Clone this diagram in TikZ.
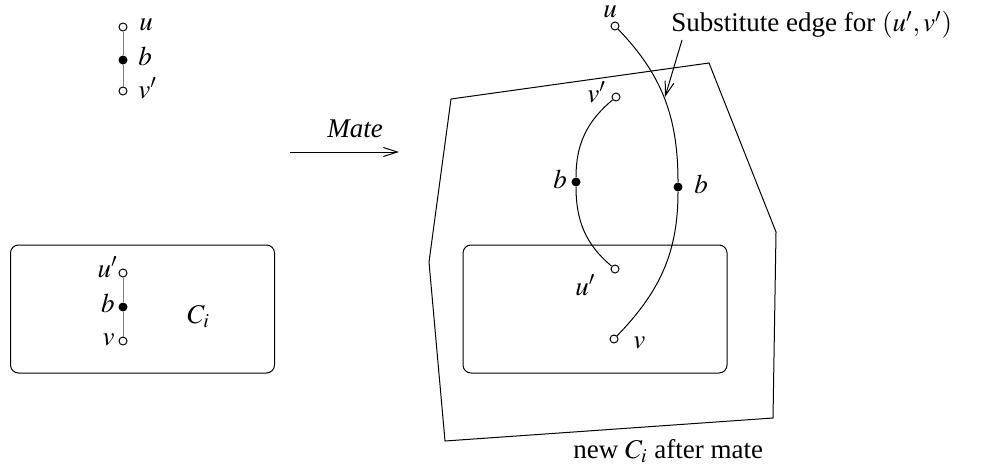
\documentclass[tikz,border=0pt]{standalone}
\usepackage{mathptmx}
\usepackage{fontspec}
\setmainfont{Liberation Serif}
\usetikzlibrary{arrows.meta}
\begin{document}
\begin{tikzpicture}[x=0.5pt,y=-0.5pt,
  every node/.style={font=\fontsize{13.5}{16}\selectfont},
  hollow/.style={circle,draw,fill=white,minimum size=4pt,inner sep=0pt,line width=0.5pt},
  solid/.style={circle,fill=black,minimum size=4.5pt,inner sep=0pt},
  lbl/.style={inner sep=0pt},
  ln/.style={line width=0.5pt},
  box/.style={draw,line width=0.5pt,rounded corners=4pt},
  tip/.style={-{Straight Barb[length=7pt,width=4.5pt,line width=0.5pt]}}]
\useasboundingbox (0,0) rectangle (988,466);

% top-left graph
\node[hollow] (a1) at (123,27) {};
\node[solid]  (a2) at (123,60) {};
\node[hollow] (a3) at (123,91) {};
\draw[ln,gray] (a1) -- (a2) -- (a3);
\node[lbl,anchor=base west] (la1) at (139,30) {$u$};
\node[lbl,anchor=base west] (la2) at (138,65) {$b$};
\node[lbl,anchor=base west] (la3) at (138,98) {$v'$};

% left box
\node[box,minimum width=132pt,minimum height=64pt,inner sep=0pt] (boxL) at (142.5,309) {};
\node[hollow] (b1) at (123,273) {};
\node[solid]  (b2) at (123,307) {};
\node[hollow] (b3) at (123,341) {};
\draw[ln,gray] (b1) -- (b2) -- (b3);
\node[lbl,anchor=base east] (lb1) at (118,277) {$u'$};
\node[lbl,anchor=base east] (lb2) at (115,312) {$b$};
\node[lbl,anchor=base east] (lb3) at (115,345) {$v$};
\node[lbl,anchor=base west] (ci) at (187,323) {$C_i$};

% Mate arrow
\coordinate (m1) at (290,152);
\coordinate (m2) at (399,152);
\draw[ln,tip] (m1) -- (m2);
\node[lbl,anchor=base west] (mate) at (327,137) {\textit{Mate}};

% right polygon
\coordinate (p1) at (451,99);
\coordinate (p2) at (709,63);
\coordinate (p3) at (776,232);
\coordinate (p4) at (773,418);
\coordinate (p5) at (445,441);
\coordinate (p6) at (429,262);
\draw[ln] (p1) -- (p2) -- (p3) -- (p4) -- (p5) -- (p6) -- cycle;

% inner box
\node[box,minimum width=132pt,minimum height=64pt,inner sep=0pt] (boxR) at (595,309) {};

% right graph
\node[hollow] (u) at (615,26) {};
\node[hollow] (vp) at (616,97) {};
\node[solid] (bl) at (576,182) {};
\node[solid] (br) at (678,187) {};
\node[hollow] (up) at (615,269) {};
\node[hollow] (v) at (614,339) {};
\draw[ln] (u) to[out=-46,in=90] (br) to[out=-90,in=46] (v);
\draw[ln] (vp) to[out=-140,in=90] (bl) to[out=-90,in=140] (up);

\node[lbl,anchor=base west] (lu) at (603,18) {$u$};
\node[lbl,anchor=base west] (lvp) at (587,102) {$v'$};
\node[lbl,anchor=base west] (lbl1) at (553,188) {$b$};
\node[lbl,anchor=base west] (lbr) at (694,193) {$b$};
\node[lbl,anchor=base west] (lup) at (575,295) {$u'$};
\node[lbl,anchor=base west] (lv) at (633,348) {$v$};

% substitute label
\node[lbl,anchor=base west] (sub) at (671,32) {Substitute edge for $(u',v')$};
\coordinate (s1) at (682,40);
\coordinate (s2) at (665,97);
\draw[ln,tip] (s1) -- (s2);

\node[lbl,anchor=base west] (newc) at (573,458) {new $C_i$ after mate};
\end{tikzpicture}
\end{document}
